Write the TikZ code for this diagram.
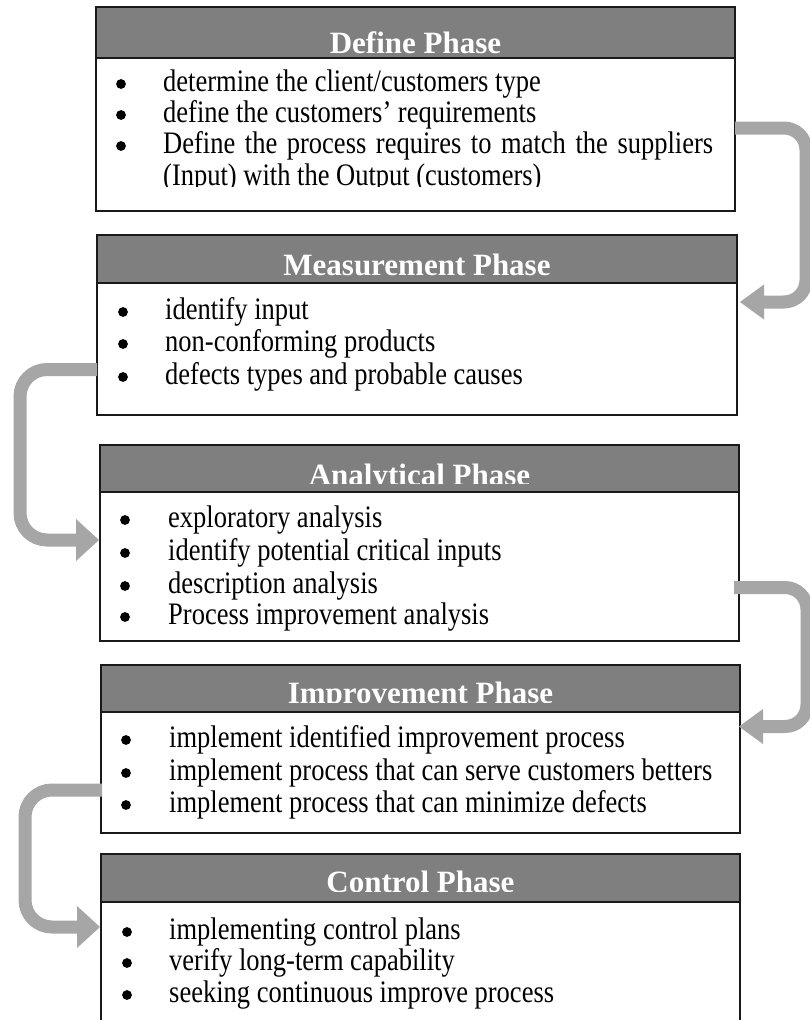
\documentclass[tikz,border=0pt]{standalone}
\usepackage{fontspec}
\usepackage{graphicx}
\setmainfont{Liberation Serif}
\usetikzlibrary{arrows.meta}
\definecolor{hdrgray}{HTML}{7F7F7F}
\definecolor{arrgray}{HTML}{A6A6A6}
\newcommand{\tallx}[1]{\scalebox{1}[1.18]{#1}}
\tikzset{
  box/.style={draw=black!90, line width=1.5pt, anchor=north west, inner sep=0pt, outer sep=0pt, minimum width=639pt},
  hdr/.style={box, fill=hdrgray},
  hdrtext/.style={anchor=base, text=white, font=\fontsize{31}{36}\selectfont\bfseries, inner sep=0pt},
  itemtext/.style={anchor=base west, font=\fontsize{26.5}{30}\selectfont, inner sep=0pt},
  bul/.style={circle, fill=black, minimum size=9.8pt, inner sep=0pt},
  flowR/.style={draw=arrgray, line width=13pt, rounded corners=22pt, -{Triangle[width=35pt,length=24pt,line width=0pt]}},
  flowL/.style={draw=arrgray, line width=13pt, rounded corners=27pt, -{Triangle[width=42pt,length=23pt,line width=0pt]}},
}
\begin{document}
\begin{tikzpicture}[x=1pt,y=-1pt]
\clip (0,0) rectangle (810,1020);
\fill[white] (0,0) rectangle (810,1020);

% ---------- boxes ----------
\node[hdr, minimum height=51pt] (defh) at (96,7) {};
\node[box, minimum height=153pt] (def) at (96,58) {};
\node[hdr, minimum height=48pt, minimum width=640pt] (meash) at (97,235) {};
\node[box, minimum height=132pt, minimum width=640pt] (meas) at (97,283) {};
\node[hdr, minimum height=47pt] (anah) at (100,445) {};
\node[box, minimum height=149pt] (ana) at (100,492) {};
\node[hdr, minimum height=47pt] (imph) at (101,665) {};
\node[box, minimum height=121pt] (imp) at (101,712) {};
\node[hdr, minimum height=48pt] (ctlh) at (101,854) {};
\node[box, minimum height=140pt] (ctl) at (101,902) {};

% ---------- header texts ----------
\node[hdrtext] (defht) at (415.5,53) {Define Phase};
\node[hdrtext] (measht) at (417,275) {Measurement Phase};
\begin{scope}
  \clip (100,445) rectangle (739,483);
  \node[hdrtext] (anaht) at (419.5,485) {Analytical Phase};
\end{scope}
\begin{scope}
  \clip (101,665) rectangle (740,702);
  \node[hdrtext] (impht) at (420.5,703) {Improvement Phase};
\end{scope}
\begin{scope}
  \clip (101,854) rectangle (740,891);
  \node[hdrtext] (ctlht) at (420.5,892) {Control Phase};
\end{scope}

% ---------- Define items ----------
\node[bul] (db1) at (121,84) {};
\node[bul] (db2) at (121,115) {};
\node[bul] (db3) at (121,146) {};
\node[itemtext] (dt1) at (163,91) {\tallx{determine the client/customers type}};
\node[itemtext] (dt2) at (163,122) {\tallx{define the customers’ requirements}};
\node[itemtext] (dt3) at (163,153) {\tallx{\makebox[550pt][s]{Define the process requires to match the suppliers}}};
\begin{scope}
  \clip (96,160) rectangle (735,186);
  \node[itemtext] (dt4) at (163,185) {\tallx{(Input) with the Output (customers)}};
\end{scope}

% ---------- Measurement items ----------
\node[bul] (mb1) at (123,312) {};
\node[bul] (mb2) at (123,344) {};
\node[bul] (mb3) at (123,377) {};
\node[itemtext] (mt1) at (165,319) {\tallx{identify input}};
\node[itemtext] (mt2) at (165,351) {\tallx{non-conforming products}};
\node[itemtext] (mt3) at (165,384) {\tallx{defects types and probable causes}};

% ---------- Analytical items ----------
\node[bul] (ab1) at (125,520) {};
\node[bul] (ab2) at (125,553) {};
\node[bul] (ab3) at (125,586) {};
\node[bul] (ab4) at (125,617) {};
\node[itemtext] (at1) at (168,527) {\tallx{exploratory analysis}};
\node[itemtext] (at2) at (168,560) {\tallx{identify potential critical inputs}};
\node[itemtext] (at3) at (168,593) {\tallx{description analysis}};
\node[itemtext] (at4) at (168,624) {\tallx{Process improvement analysis}};

% ---------- Improvement items ----------
\node[bul] (ib1) at (126,740) {};
\node[bul] (ib2) at (126,773) {};
\node[bul] (ib3) at (126,805) {};
\node[itemtext] (it1) at (169,747) {\tallx{implement identified improvement process}};
\node[itemtext] (it2) at (169,780) {\tallx{implement process that can serve customers betters}};
\node[itemtext] (it3) at (169,812) {\tallx{implement process that can minimize defects}};

% ---------- Control items ----------
\node[bul] (cb1) at (127,932) {};
\node[bul] (cb2) at (127,963) {};
\node[bul] (cb3) at (127,995) {};
\node[itemtext] (ct1) at (169,939) {\tallx{implementing control plans}};
\node[itemtext] (ct2) at (169,970) {\tallx{verify long-term capability}};
\node[itemtext] (ct3) at (169,1002) {\tallx{seeking continuous improve process}};

% ---------- connectors ----------
\draw[flowR] ([yshift=-70pt]def.north east) -- ++(71,0) |- ([xshift=3pt,yshift=-19pt]meas.north east);
\draw[flowL] ([yshift=-86.5pt]meas.north west) -- ++(-77,0) |- ([xshift=-1pt,yshift=-48pt]ana.north west);
\draw[flowR] ([xshift=-5pt,yshift=-95.5pt]ana.north east) -- ++(73,0) |- ([xshift=-1pt,yshift=-14.5pt]imp.north east);
\draw[flowL] ([xshift=1pt,yshift=-78pt]imp.north west) -- ++(-77,0) |- ([xshift=-1pt,yshift=-25pt]ctl.north west);
\end{tikzpicture}
\end{document}
